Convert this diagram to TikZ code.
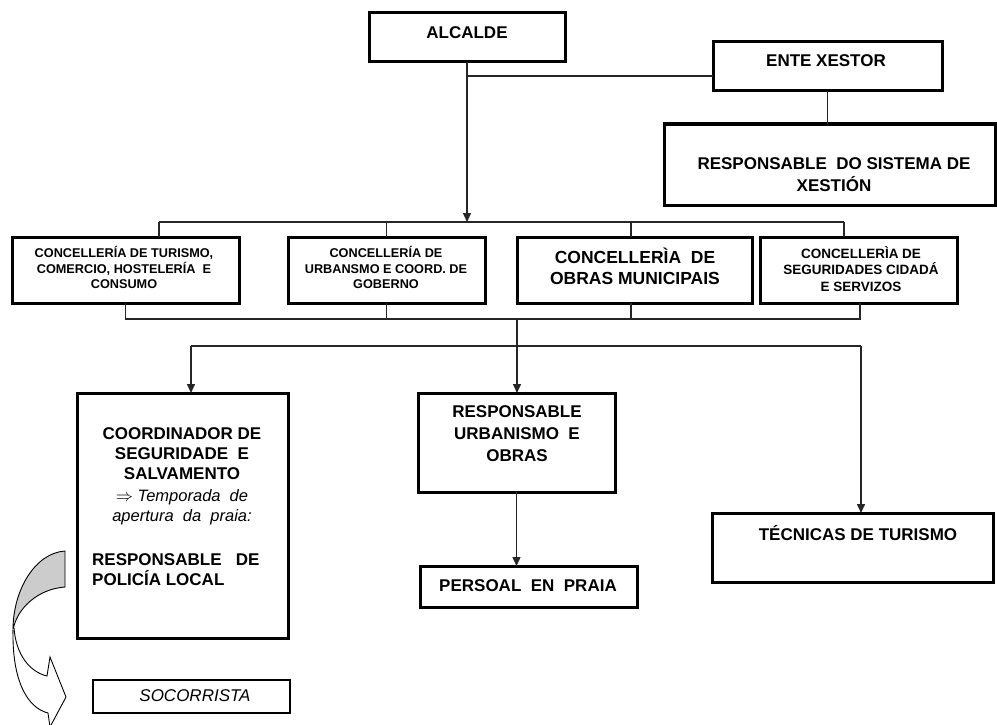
\documentclass[tikz,border=0pt]{standalone}
\usepackage{fontspec}
\setmainfont{Liberation Sans}
\usetikzlibrary{arrows.meta}
\begin{document}
\begin{tikzpicture}[x=1pt,y=-1pt,
  box/.style={draw=black, line width=3pt, inner sep=0pt, outer sep=0pt, fill=white},
  thinbox/.style={draw=black, line width=1.2pt, inner sep=0pt, outer sep=0pt, fill=white},
  conn/.style={draw=black!85, line width=1.5pt},
  arr/.style={conn, -{Triangle[length=9pt,width=8pt]}},
  txt/.style={inner sep=0pt, align=center, text=black},
  fb/.style={font=\bfseries\fontsize{17}{22}\selectfont}
]
\useasboundingbox (0,0) rectangle (997,725);
\fill[white] (0,0) rectangle (997,725);

% boxes
\node[box, minimum width=196pt, minimum height=49pt] (alc) at (467,37.5) {};
\node[box, minimum width=229pt, minimum height=49pt] (ente) at (827.5,66.5) {};
\node[box, minimum width=331pt, minimum height=81pt] (rsis) at (829.5,164.5) {};
\node[box, minimum width=227pt, minimum height=66pt] (c1) at (125.5,270) {};
\node[box, minimum width=197pt, minimum height=66pt] (c2) at (386.5,270) {};
\node[box, minimum width=235pt, minimum height=66pt] (c3) at (634.5,270) {};
\node[box, minimum width=197pt, minimum height=66pt] (c4) at (858.5,270) {};
\node[box, minimum width=211pt, minimum height=245pt] (coord) at (182.5,515.5) {};
\node[box, minimum width=197pt, minimum height=99pt] (urb) at (516.5,442.5) {};
\node[box, minimum width=217pt, minimum height=41pt] (pers) at (528.5,586.5) {};
\node[box, minimum width=281pt, minimum height=69pt] (tec) at (852.5,547.5) {};
\node[thinbox, minimum width=197pt, minimum height=33pt] (soc) at (191.5,696.5) {};

% connectors
\coordinate (j1) at (467,76);
\coordinate (t) at (467,222);
\draw[conn] (j1) -- (j1 -| ente.west);
\draw[conn] (ente.south) -- (ente.south |- rsis.north);
\draw[arr] (alc.south) -- (t);
\coordinate (t1) at ([xshift=33.5pt]c1.north |- t);
\coordinate (t4) at ([xshift=-14.5pt]c4.north |- t);
\draw[conn] (t1) -- (t4);
\draw[conn] (t1) -- (t1 |- c1.north);
\draw[conn] (c2.north |- t) -- (c2.north);
\draw[conn] ([xshift=-3.5pt]c3.north |- t) -- ([xshift=-3.5pt]c3.north);
\draw[conn] (t4) -- (t4 |- c4.north);

\coordinate (b) at (517,319);
\draw[conn] (c1.south) -- ++(0,16) -| ([xshift=1.5pt]c4.south);
\draw[conn] (c2.south) -- (c2.south |- b);
\draw[conn] ([xshift=-3.5pt]c3.south) -- ([xshift=-3.5pt]c3.south |- b);
\coordinate (m) at (517,346);
\draw[conn] (b) -- (m);
\coordinate (m1) at ([xshift=8.5pt]coord.north |- m);
\coordinate (m3) at ([xshift=8.5pt]tec.north |- m);
\draw[conn] (m1) -- (m3);
\draw[arr] (m1) -- (m1 |- coord.north);
\draw[arr] (m) -- (m |- urb.north);
\draw[arr] (m3) -- (m3 |- tec.north);
\draw[arr] (urb.south) -- (urb.south |- pers.north);

% curved arrow
\draw[line width=0.9pt, fill=black!20] (65,551) .. controls (35,553) and (13,590) .. (13,630)
  .. controls (17,608) and (38,589) .. (65,587) -- cycle;
\draw[line width=0.9pt, fill=white] (13,630) .. controls (12,682) and (28,708) .. (48,713)
  -- (50,727) -- (66,697) -- (50,657) -- (47,676) .. controls (30,672) and (16,655) .. (14,628);

% texts
\node[txt, fb] (talc) at (467,33) {ALCALDE};
\node[txt, fb] (tente) at (826,61) {ENTE XESTOR};
\node[txt, fb] (trsis) at (834,175) {RESPONSABLE\ \ DO SISTEMA DE\\XESTIÓN};
\node[txt, font=\bfseries\fontsize{12.7}{15.3}\selectfont] (tc1) at (124,267.5)
  {CONCELLERÍA DE TURISMO,\\COMERCIO, HOSTELERÍA\ \ E\\CONSUMO};
\node[txt, font=\bfseries\fontsize{12.7}{15.3}\selectfont] (tc2) at (386,267.5)
  {CONCELLERÍA DE\\URBANSMO E COORD. DE\\GOBERNO};
\node[txt, font=\bfseries\fontsize{17.5}{21}\selectfont] (tc3) at (635,266)
  {CONCELLERÌA\ \ DE\\OBRAS MUNICIPAIS};
\node[txt, font=\bfseries\fontsize{13.5}{16.5}\selectfont] (tc4) at (861,269)
  {CONCELLERÌA DE\\SEGURIDADES CIDADÁ\\E SERVIZOS};
\node[txt, font=\bfseries\fontsize{17}{20}\selectfont] (tco1) at (182,454)
  {COORDINADOR DE\\SEGURIDADE\ \ E\\SALVAMENTO};
\node[txt, font=\itshape\fontsize{16.5}{20}\selectfont] (tco2) at (182,507)
  {$\Rightarrow$ Temporada\ \ de\\apertura\ \ da\ \ praia:};
\node[txt, align=left, anchor=west, font=\bfseries\fontsize{17}{20}\selectfont] (tpol) at (92,570)
  {RESPONSABLE\ \ \ DE\\POLICÍA LOCAL};
\node[txt, fb] (turb) at (517,434) {RESPONSABLE\\URBANISMO\ \ E\\OBRAS};
\node[txt, fb] (tpers) at (528,585.5) {PERSOAL\ \ EN\ \ PRAIA};
\node[txt, fb] (ttec) at (858,533.5) {TÉCNICAS DE TURISMO};
\node[txt, font=\itshape\fontsize{17}{20}\selectfont] (tsoc) at (195,696) {SOCORRISTA};
\end{tikzpicture}
\end{document}
